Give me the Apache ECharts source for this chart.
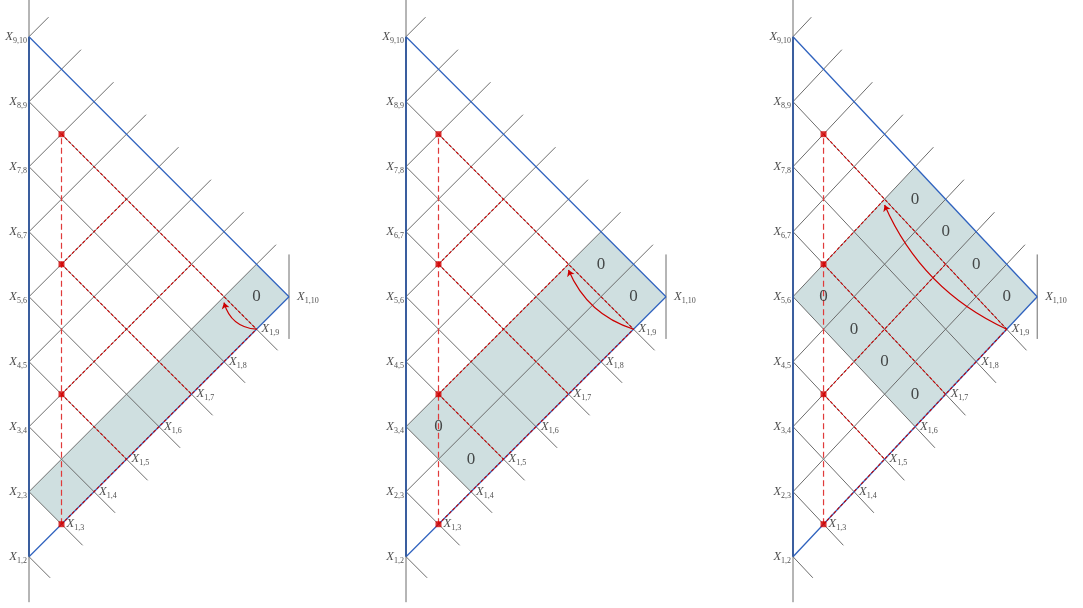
<!DOCTYPE html>
<html><head><meta charset="utf-8">
<script src="https://cdn.jsdelivr.net/npm/echarts@6/dist/echarts.min.js"></script>
<style>html,body{margin:0;padding:0;background:#fff}#chart{width:1083px;height:608px}</style>
</head><body><div id="chart"></div>
<script>
// Kinematic mesh of planar variables X_{i,j} (n = 10), drawn three times with
// different shaded regions of vanishing cells.
const n = 10;
const leftLabels = ['1,2', '2,3', '3,4', '4,5', '5,6', '6,7', '7,8', '8,9', '9,10'];   // X_{i,i+1}
const edgeLabels = ['1,3', '1,4', '1,5', '1,6', '1,7', '1,8', '1,9', '1,10'];          // X_{1,j}
const markedPoints = [[1, 3], [3, 5], [5, 7], [7, 9]];
// red rectangle edges, given by their (i,j) end points
const redEdges = [
  [[1, 3], [1, 9]], [[3, 5], [3, 9]], [[5, 7], [5, 9]],
  [[3, 5], [1, 5]], [[5, 7], [1, 7]], [[7, 9], [1, 9]]
];
// shaded block of each panel: i-range and j-range
const shadeI = [[1, 2], [1, 3], [1, 5]];
const shadeJ = [[3, 10], [4, 10], [6, 10]];
// cells carrying a "0" (cell centres in (i,j))
const zeroCells = [
  [[1.5, 9.5]],
  [[2.5, 9.5], [1.5, 9.5], [2.5, 4.5], [1.5, 4.5]],
  [[4.5, 9.5], [3.5, 9.5], [2.5, 9.5], [1.5, 9.5], [4.5, 6.5], [3.5, 6.5], [2.5, 6.5], [1.5, 6.5]]
];
const arrowFrom = [1, 9];
const arrowTo = [[2, 9], [3, 9], [5, 9]];

// ---- layout ----
const UNIT = 32.5;
const panelX = [29, 406, 794];
const arrowBend = [0.35, 0.23, 0.19];

// (i,j) -> (d, s) with d = j - i (horizontal), s = i + j (vertical)
const ds = (i, j) => [j - i, i + j];

const GRAY = '#6c6c6c', BLUE = '#2f62be', BLUE_V = '#3a5e9e', RED = '#cc0000';

function segSeries(p, segs, style, z) {
  return {
    type: 'custom', xAxisIndex: p, yAxisIndex: p, z: z, silent: true, clip: false,
    data: segs, encode: { x: [0, 2], y: [1, 3] },
    renderItem: function (params, api) {
      const a = api.coord([api.value(0), api.value(1)]);
      const b = api.coord([api.value(2), api.value(3)]);
      return { type: 'line', shape: { x1: a[0], y1: a[1], x2: b[0], y2: b[1] },
        style: Object.assign({ fill: null }, style) };
    }
  };
}
const seg = (a, b) => ds(a[0], a[1]).concat(ds(b[0], b[1]));

const richX = {
  x: { fontFamily: 'Liberation Serif', fontStyle: 'italic', fontSize: 12.5, color: '#222', lineHeight: 16, verticalAlign: 'middle' },
  s: { fontFamily: 'Liberation Serif', fontSize: 8, color: '#222', lineHeight: 6, verticalAlign: 'bottom' }
};
const fmtX = (t) => '{x|X}{s|' + t + '}';

const grids = [], xAxes = [], yAxes = [], series = [];
for (let p = 0; p < 3; p++) {
  grids.push({ left: panelX[p] - UNIT / 2, width: UNIT * 10, top: 556.7 - 17 * UNIT, height: UNIT * 18 });
  xAxes.push({ gridIndex: p, type: 'value', min: 0.5, max: 10.5, show: false });
  yAxes.push({ gridIndex: p, type: 'value', min: 2, max: 20, show: false });

  // shaded block
  const [i1, i2] = shadeI[p], [j1, j2] = shadeJ[p];
  series.push({
    type: 'custom', xAxisIndex: p, yAxisIndex: p, z: 1, silent: true, clip: false,
    data: [[i1, i2, j1, j2]],
    renderItem: function (params, api) {
      const a = api.value(0), b = api.value(1), c = api.value(2), d = api.value(3);
      const pts = [[b, c], [b, d], [a, d], [a, c]].map(q => api.coord(ds(q[0], q[1])));
      return { type: 'polygon', shape: { points: pts }, style: { fill: '#cfdfe0', stroke: null } };
    }
  });

  // gray mesh: lines of constant i (up-right) and constant j (down-right)
  const gray = [];
  for (let i = 2; i <= n - 1; i++) gray.push(seg([i, i + 1], [i, n + 0.6]));
  for (let j = 2; j <= n - 1; j++) gray.push(seg([j - 1, j], [0.35, j]));
  // left vertical beyond X_{1,2} and X_{9,10}
  gray.push([1, 1.6, 1, 3], [1, 2 * n - 1, 1, 20.4]);
  // short vertical tick through X_{1,n}
  const corner = ds(1, n);
  gray.push([corner[0], corner[1] - 1.3, corner[0], corner[1] + 1.3]);
  series.push(segSeries(p, gray, { stroke: GRAY, lineWidth: 1 }, 2));

  // blue boundary
  series.push(segSeries(p, [seg([1, 2], [1, n]), seg([n - 1, n], [1, n])], { stroke: BLUE, lineWidth: 1.3 }, 3));
  series.push(segSeries(p, [seg([1, 2], [n - 1, n])], { stroke: BLUE_V, lineWidth: 2 }, 3));

  // red rectangle edges
  series.push(segSeries(p, redEdges.map(e => seg(e[0], e[1])), { stroke: RED, lineWidth: 1.1, lineDash: [3, 2] }, 4));
  // vertical dashed line through the marked points
  const m0 = markedPoints[0], m1 = markedPoints[markedPoints.length - 1];
  series.push(segSeries(p, [seg(m0, m1)], { stroke: '#e03a3a', lineWidth: 1.2, lineDash: [6, 3.5] }, 4));

  // marked points
  series.push({
    type: 'scatter', xAxisIndex: p, yAxisIndex: p, z: 6, silent: true,
    symbol: 'rect', symbolSize: 6, itemStyle: { color: '#d40000' },
    data: markedPoints.map(q => ds(q[0], q[1]))
  });

  // arrow
  const to = ds(arrowTo[p][0], arrowTo[p][1]);
  series.push({
    type: 'lines', coordinateSystem: 'cartesian2d', xAxisIndex: p, yAxisIndex: p, z: 6, silent: true,
    symbol: ['none', 'arrow'], symbolSize: 6,
    lineStyle: { color: RED, width: 1.2, curveness: arrowBend[p], opacity: 1 },
    data: [{ coords: [ds(arrowFrom[0], arrowFrom[1]), [to[0], to[1] - 0.18]] }]
  });

  // labels along the left edge
  series.push({
    type: 'scatter', xAxisIndex: p, yAxisIndex: p, z: 7, silent: true, symbolSize: 0,
    data: leftLabels.map((t, k) => ds(k + 1, k + 2)),
    label: { show: true, position: 'left', distance: 2, formatter: (d) => fmtX(leftLabels[d.dataIndex]), rich: richX }
  });
  // labels along the lower edge
  series.push({
    type: 'scatter', xAxisIndex: p, yAxisIndex: p, z: 7, silent: true, symbolSize: 0,
    data: edgeLabels.map((t, k) => ds(1, k + 3)),
    label: {
      show: true, position: 'right', formatter: (d) => fmtX(edgeLabels[d.dataIndex]), rich: richX,
      distance: 5
    },
    labelLayout: (params) => params.dataIndex === edgeLabels.length - 1 ? { dx: 3 } : {}
  });
  // zeros
  series.push({
    type: 'scatter', xAxisIndex: p, yAxisIndex: p, z: 7, silent: true, symbolSize: 0,
    data: zeroCells[p].map(q => ds(q[0], q[1])),
    label: { show: true, position: 'inside', formatter: '0', fontFamily: 'Liberation Serif', fontSize: 17, color: '#222' }
  });
}

const chart = echarts.init(document.getElementById('chart'), null, { renderer: 'canvas' });
chart.setOption({ animation: false, grid: grids, xAxis: xAxes, yAxis: yAxes, series: series });
</script></body></html>
